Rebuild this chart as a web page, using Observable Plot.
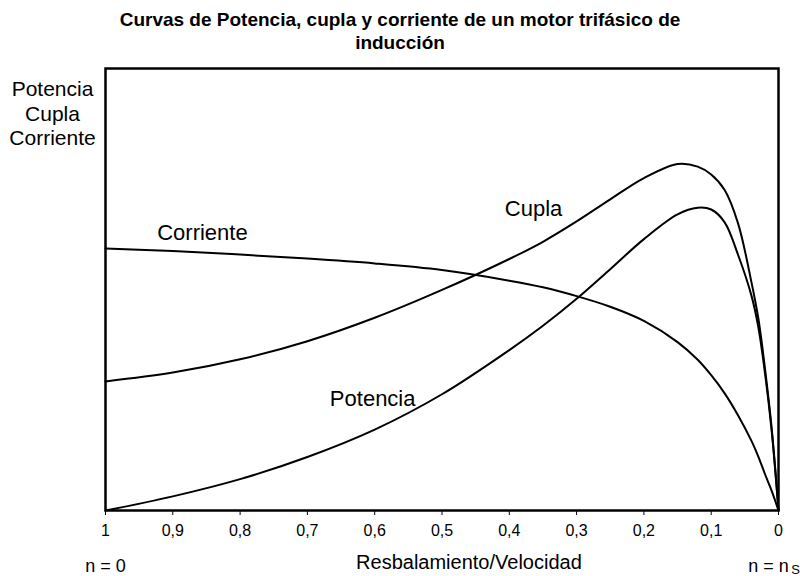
<!DOCTYPE html>
<html>
<head>
<meta charset="utf-8">
<script src="https://cdn.jsdelivr.net/npm/d3@7"></script>
<script src="https://cdn.jsdelivr.net/npm/@observablehq/plot@0.6"></script>
<style>
  html, body { margin: 0; padding: 0; background: #fff; }
  body { width: 800px; height: 576px; overflow: hidden; font-family: "Liberation Sans", Arial, sans-serif; }
  #title { height: 46px; padding-top: 8px; text-align: center; font-weight: bold; font-size: 19px; line-height: 23px; color: #000; }
  #chart svg { display: block; }
</style>
</head>
<body>
<div id="title">Curvas de Potencia, cupla y corriente de un motor trifásico de<br>inducción</div>
<div id="chart"></div>
<script>
const slip      = [1, 0.9, 0.8, 0.7, 0.6, 0.5, 0.4, 0.35, 0.3, 0.25, 0.2, 0.15, 0.12, 0.1, 0.08, 0.06, 0.04, 0.03, 0.02, 0.01, 0];
const corriente = [59.3, 58.7, 57.9, 57.0, 55.9, 54.4, 52.0, 50.5, 48.5, 46.1, 42.9, 38.1, 34.1, 30.6, 26.5, 21.5, 15.7, 12.2, 8.2, 4.4, 0];
const cupla     = [29.2, 31.2, 34.2, 38.3, 43.6, 49.9, 56.9, 60.8, 65.4, 70.4, 75.2, 78.4, 77.8, 76.0, 72.5, 64.9, 51.5, 43.5, 32.0, 18.4, 0];
const potencia  = [0, 3.2, 7.1, 12.1, 18.3, 26.3, 36.3, 41.8, 47.9, 54.6, 61.4, 67.0, 68.5, 68.1, 65.2, 57.8, 48.5, 41.5, 31.0, 17.8, 0];
const xTicks    = [1, 0.9, 0.8, 0.7, 0.6, 0.5, 0.4, 0.3, 0.2, 0.1, 0];
const curveLabels = [
  {name: "Corriente", s: 0.856, v: 62.7},
  {name: "Cupla", s: 0.364, v: 68.3},
  {name: "Potencia", s: 0.603, v: 25.3}
];

const series = [
  ["Corriente", corriente],
  ["Cupla", cupla],
  ["Potencia", potencia]
];
const rows = series.flatMap(([name, vals]) => slip.map((s, i) => ({name, s, v: vals[i]})));

const fmt = d => (d === 0 || d === 1) ? String(d) : String(d).replace(".", ",");
const font = "Liberation Sans, Arial, sans-serif";

const chart = Plot.plot({
  width: 800,
  height: 522,
  marginTop: 14,
  marginBottom: 66,
  marginLeft: 105,
  marginRight: 22,
  style: {fontFamily: font, color: "#000", background: "#fff"},
  x: {domain: [1, 0], range: [105, 778]},
  y: {domain: [0, 100], axis: null},
  marks: [
    Plot.line(rows, {x: "s", y: "v", z: "name", stroke: "#000", strokeWidth: 2, curve: "catmull-rom"}),
    Plot.frame({stroke: "#000", strokeWidth: 2.5}),
    Plot.axisX({ticks: xTicks, tickFormat: fmt, tickSize: 5, tickPadding: 9, fontSize: 16, label: null, stroke: "#000"}),
    Plot.text(curveLabels, {x: "s", y: "v", text: "name", fontSize: 22, fill: "#000"}),
    Plot.text(["Potencia\nCupla\nCorriente"], {frameAnchor: "top-left", dx: -53, dy: 44, textAnchor: "middle", lineAnchor: "middle", lineHeight: 1.19, fontSize: 21, fill: "#000"}),
    Plot.text(["Resbalamiento/Velocidad"], {x: [0.46], frameAnchor: "bottom", dy: 52, lineAnchor: "middle", fontSize: 20, fill: "#000"}),
    Plot.text(["n = 0"], {x: [1], frameAnchor: "bottom", dy: 56, lineAnchor: "middle", fontSize: 18, fill: "#000"}),
    Plot.text(["n = n"], {x: [0], frameAnchor: "bottom", dx: -10, dy: 56, lineAnchor: "middle", fontSize: 18, fill: "#000"}),
    Plot.text(["S"], {x: [0], frameAnchor: "bottom", dx: 17, dy: 59, lineAnchor: "middle", fontSize: 13, fill: "#000"})
  ]
});
document.getElementById("chart").appendChild(chart);
</script>
</body>
</html>
